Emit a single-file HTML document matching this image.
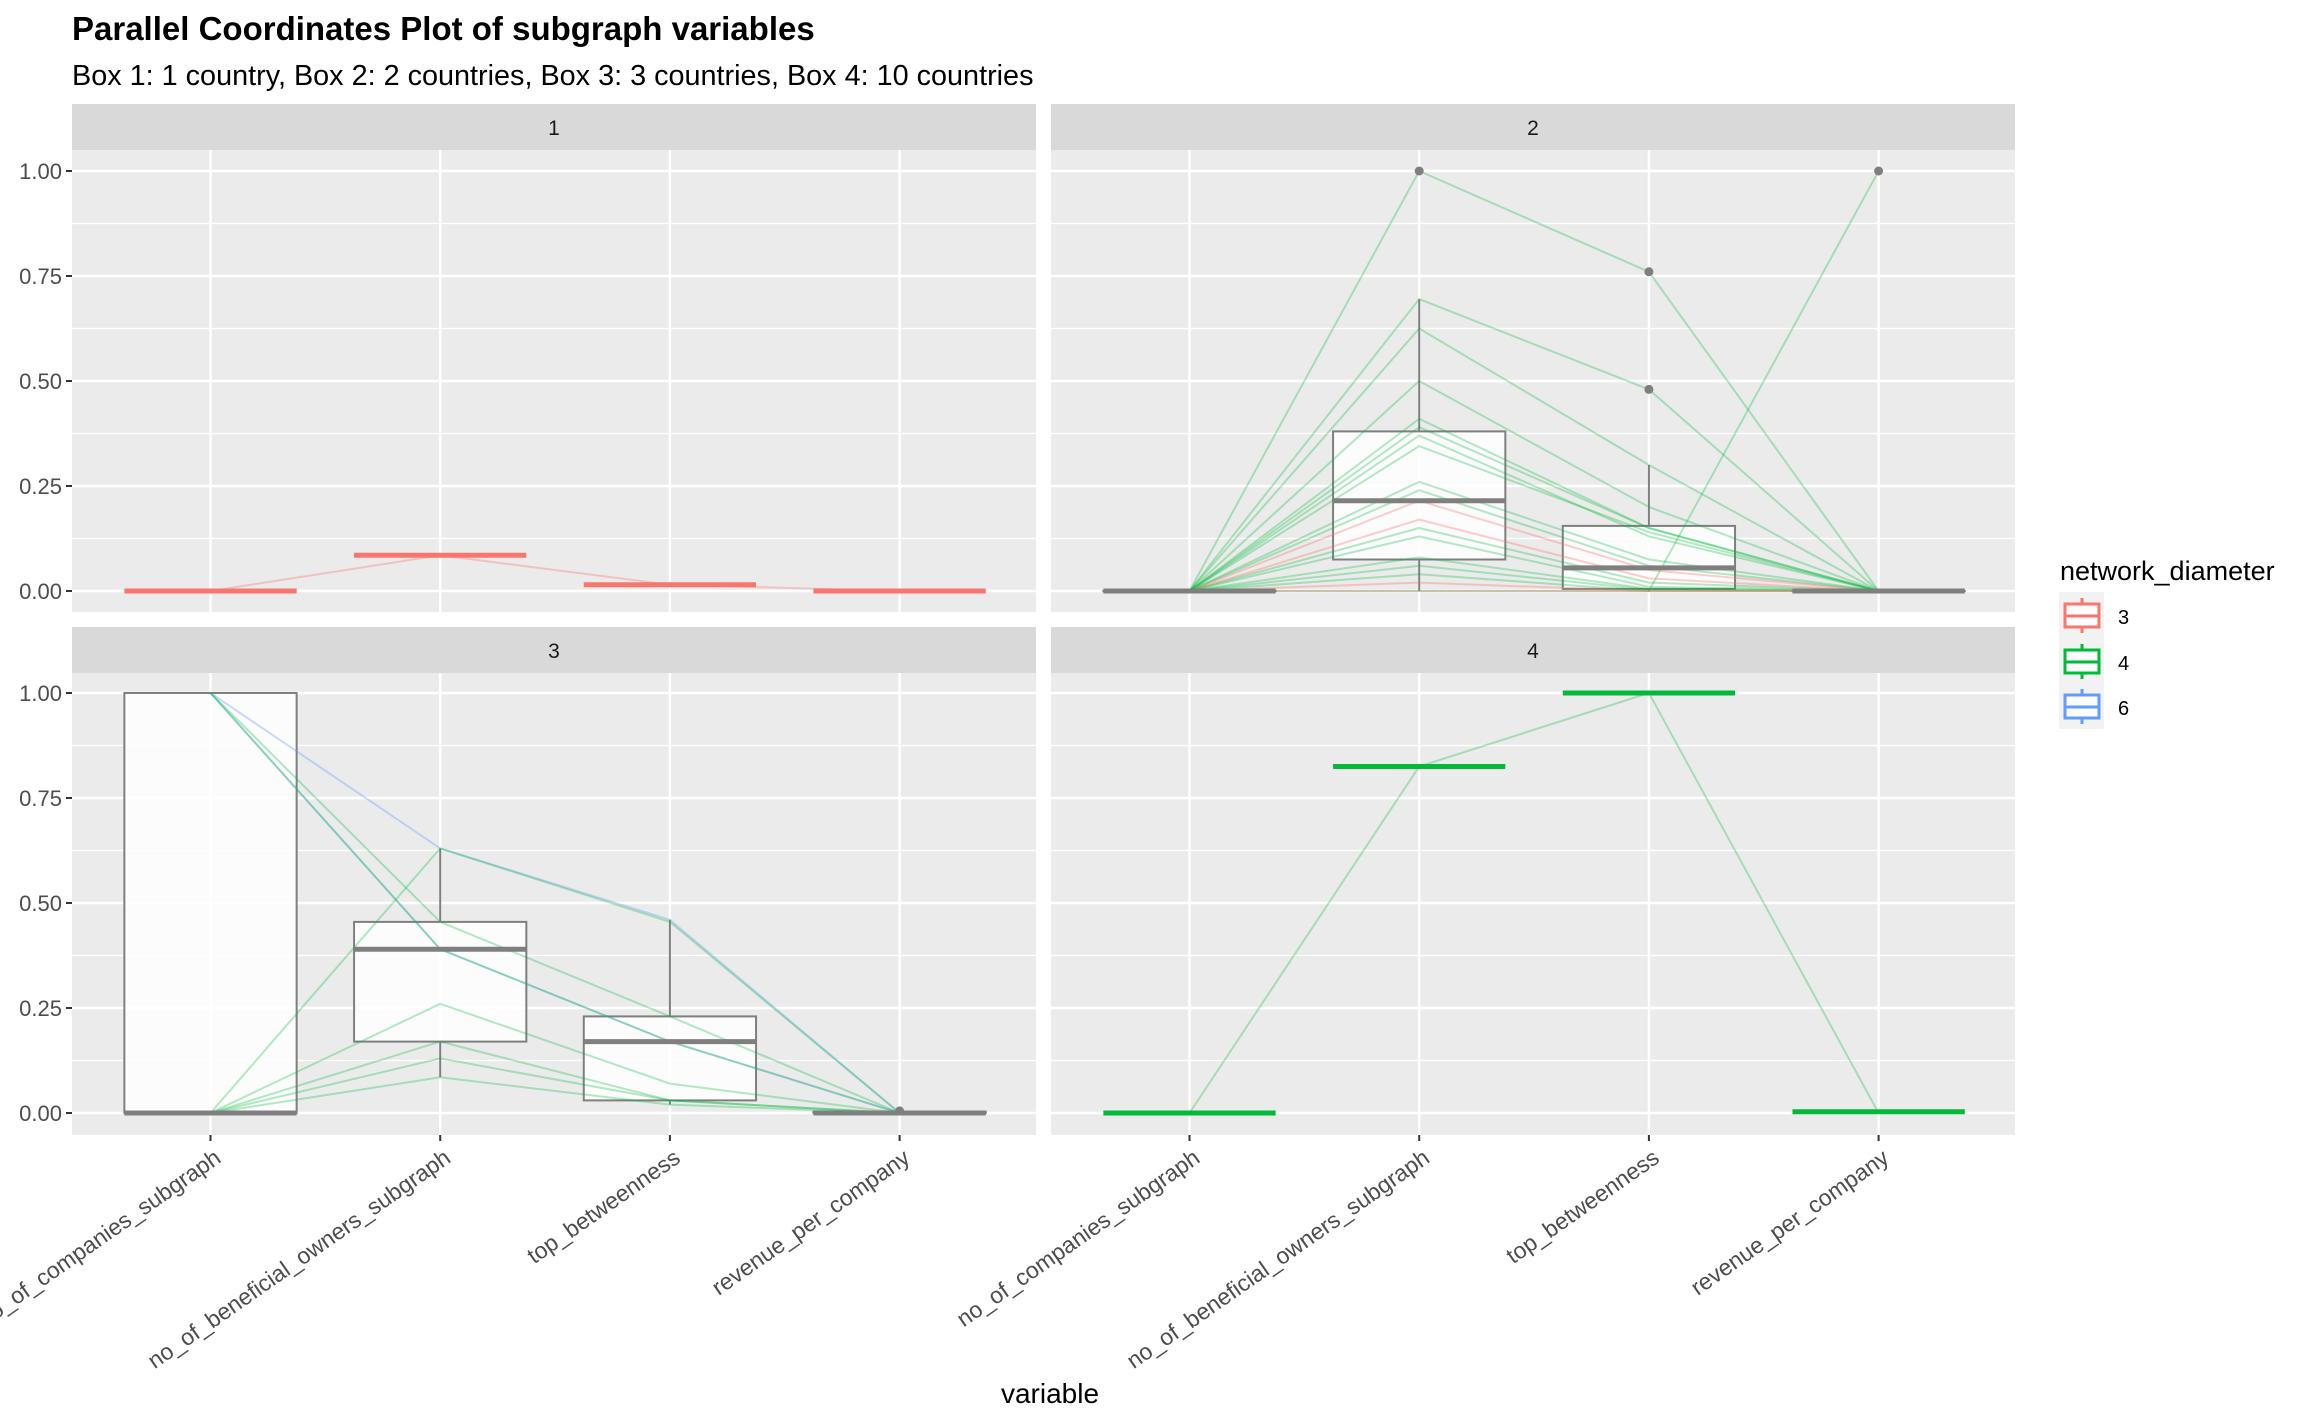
<!DOCTYPE html>
<html><head><meta charset="utf-8"><style>
html,body{margin:0;padding:0;background:#fff;}
svg text{font-family:"Liberation Sans",Arial,sans-serif;}
</style></head><body>
<svg width="2304" height="1423" viewBox="0 0 2304 1423" xmlns="http://www.w3.org/2000/svg">
<rect width="2304" height="1423" fill="#fff"/>
<text x="72" y="40" font-size="33" font-weight="bold" fill="#000">Parallel Coordinates Plot of subgraph variables</text>
<text x="72" y="85" font-size="28.8" fill="#000">Box 1: 1 country, Box 2: 2 countries, Box 3: 3 countries, Box 4: 10 countries</text>

<g id="panels"></g>

<!-- legend -->
<text x="2060" y="580" font-size="27" fill="#000">network_diameter</text>
<rect x="2059" y="592" width="45" height="137" fill="#F2F2F2"/>
<g stroke-width="3" fill="#FCFCFC">
<line x1="2082" y1="598" x2="2082" y2="633" stroke="#F8766D"/><rect x="2065" y="604" width="34" height="23" stroke="#F8766D"/><line x1="2065" y1="616" x2="2099" y2="616" stroke="#F8766D"/>
<line x1="2082" y1="644" x2="2082" y2="679" stroke="#00BA38"/><rect x="2065" y="650" width="34" height="23" stroke="#00BA38"/><line x1="2065" y1="662" x2="2099" y2="662" stroke="#00BA38"/>
<line x1="2082" y1="689" x2="2082" y2="724" stroke="#619CFF"/><rect x="2065" y="695" width="34" height="23" stroke="#619CFF"/><line x1="2065" y1="707" x2="2099" y2="707" stroke="#619CFF"/>
</g>
<text x="2118" y="624" font-size="20" fill="#000">3</text>
<text x="2118" y="670" font-size="20" fill="#000">4</text>
<text x="2118" y="715" font-size="20" fill="#000">6</text>

<text x="1050" y="1403" font-size="28" fill="#000" text-anchor="middle">variable</text>
</svg>
<script>
(function(){
var NS="http://www.w3.org/2000/svg";
var root=document.getElementById("panels");
function el(t,a,p){var e=document.createElementNS(NS,t);for(var k in a)e.setAttribute(k,a[k]);(p||root).appendChild(e);return e;}
var panels=[
 {l:72,t:104,label:"1",y0:591,bottom:false,left:true},
 {l:1051,t:104,label:"2",y0:591,bottom:false,left:false},
 {l:72,t:627,label:"3",y0:1113,bottom:true,left:true},
 {l:1051,t:627,label:"4",y0:1113,bottom:true,left:false}
];
var W=964,SH=46,PH=462,UX=229.7,UY=420;
var R="rgba(248,118,109,0.35)",G="rgba(0,186,56,0.3)",B="rgba(97,156,255,0.35)";
var data=[
 {lines:[[R,[0,0.085,0.015,0]]],boxes:null,meds:[[0,"#F8766D"],[0.085,"#F8766D"],[0.015,"#F8766D"],[0,"#F8766D"]]},
 {lines:[
  [G,[0,1,0.76,0]],[G,[0,0,0,1]],[G,[0,0.695,0.48,0]],[G,[0,0.625,0.3,0]],[G,[0,0.5,0.2,0]],
  [G,[0,0.41,0.15,0]],[G,[0,0.39,0.15,0]],[G,[0,0.37,0.13,0]],[G,[0,0.345,0.14,0]],[G,[0,0.26,0.075,0]],
  [G,[0,0.24,0.06,0]],[R,[0,0.215,0.05,0]],[R,[0,0.17,0.03,0]],[G,[0,0.15,0.02,0]],[G,[0,0.13,0.01,0]],
  [G,[0,0.08,0.005,0]],[G,[0,0.06,0.003,0]],[G,[0,0.04,0,0]],[R,[0,0.02,0,0]],[R,[0,0,0,0]]],
  boxes:[[0,0,0,0,0],[0,0.075,0.215,0.38,0.695],[0,0.005,0.055,0.155,0.3],[0,0,0,0,0]],
  outliers:[[2,1],[3,0.76],[3,0.48],[4,1]]},
 {lines:[
  [B,[1,0.63,0.46,0]],[B,[1,0.39,0.17,0]],[G,[1,0.39,0.17,0]],[G,[1,0.455,0.23,0]],[G,[0,0.63,0.455,0]],
  [G,[0,0.26,0.07,0]],[G,[0,0.17,0.03,0]],[G,[0,0.13,0.03,0]],[G,[0,0.085,0.02,0]]],
  boxes:[[0,0,0,1,1],[0.085,0.17,0.39,0.455,0.63],[0.02,0.03,0.17,0.23,0.46],[0,0,0,0.003,0.003]],
  outliers:[[4,0.005]]},
 {lines:[[G,[0,0.825,1,0]]],boxes:null,meds:[[0,"#00BA38"],[0.825,"#00BA38"],[1,"#00BA38"],[0.003,"#00BA38"]]}
];
var xl=["no_of_companies_subgraph","no_of_beneficial_owners_subgraph","top_betweenness","revenue_per_company"];
panels.forEach(function(p,pi){
 var d=data[pi];
 el("rect",{x:p.l,y:p.t,width:W,height:SH,fill:"#D9D9D9"});
 el("text",{x:p.l+W/2,y:p.t+31,"font-size":21,fill:"#1A1A1A","text-anchor":"middle"}).textContent=p.label;
 var top=p.t+SH;
 el("rect",{x:p.l,y:top,width:W,height:PH,fill:"#EBEBEB"});
 function X(i){return p.l+138.5+i*UX;}
 function Y(v){return p.y0-UY*v;}
 for(var v=-0.125;v<=1.13;v+=0.25){var yy=Y(v);if(yy>top&&yy<top+PH)el("line",{x1:p.l,x2:p.l+W,y1:yy,y2:yy,stroke:"#fff","stroke-width":1.2});}
 for(var v=0;v<=1.001;v+=0.25){var yy=Y(v);el("line",{x1:p.l,x2:p.l+W,y1:yy,y2:yy,stroke:"#fff","stroke-width":2.4});
   if(p.left){el("line",{x1:p.l-6,x2:p.l,y1:yy,y2:yy,stroke:"#333","stroke-width":2});
   el("text",{x:p.l-10,y:yy+8,"font-size":22,fill:"#4D4D4D","text-anchor":"end"}).textContent=v.toFixed(2);}}
 for(var i=0;i<4;i++){el("line",{x1:X(i),x2:X(i),y1:top,y2:top+PH,stroke:"#fff","stroke-width":2.4});
   if(p.bottom){el("line",{x1:X(i),x2:X(i),y1:top+PH,y2:top+PH+6,stroke:"#333","stroke-width":2});
   var g=el("g",{transform:"translate("+(X(i)+2)+","+(top+PH+12)+") rotate(-35)"});
   el("text",{x:0,y:0,dy:"0.75em","font-size":23,fill:"#4D4D4D","text-anchor":"end"},g).textContent=xl[i];}}
 var hw=0.375*UX;
 if(d.boxes){
  d.boxes.forEach(function(b,i){
   var x=X(i);
   el("line",{x1:x,x2:x,y1:Y(b[4]),y2:Y(b[3]),stroke:"#7F7F7F","stroke-width":2});
   el("line",{x1:x,x2:x,y1:Y(b[1]),y2:Y(b[0]),stroke:"#7F7F7F","stroke-width":2});
   el("rect",{x:x-hw,y:Y(b[3]),width:2*hw,height:Math.max(0.1,Y(b[1])-Y(b[3])),fill:"rgba(255,255,255,0.85)",stroke:"#7F7F7F","stroke-width":2});
  });
 }
 d.lines.forEach(function(ln){
  var pts=ln[1].map(function(v,i){return X(i)+","+Y(v);}).join(" ");
  el("polyline",{points:pts,fill:"none",stroke:ln[0],"stroke-width":2});
 });
 if(d.boxes){
  d.boxes.forEach(function(b,i){var x=X(i);el("line",{x1:x-hw,x2:x+hw,y1:Y(b[2]),y2:Y(b[2]),stroke:"#7F7F7F","stroke-width":5});});
  (d.outliers||[]).forEach(function(o){el("circle",{cx:X(o[0]-1),cy:Y(o[1]),r:4.5,fill:"#7F7F7F"});});
 }
 if(d.meds){d.meds.forEach(function(m,i){var x=X(i);el("line",{x1:x-hw,x2:x+hw,y1:Y(m[0]),y2:Y(m[0]),stroke:m[1],"stroke-width":5});});}
});
})();
</script>
</body></html>
